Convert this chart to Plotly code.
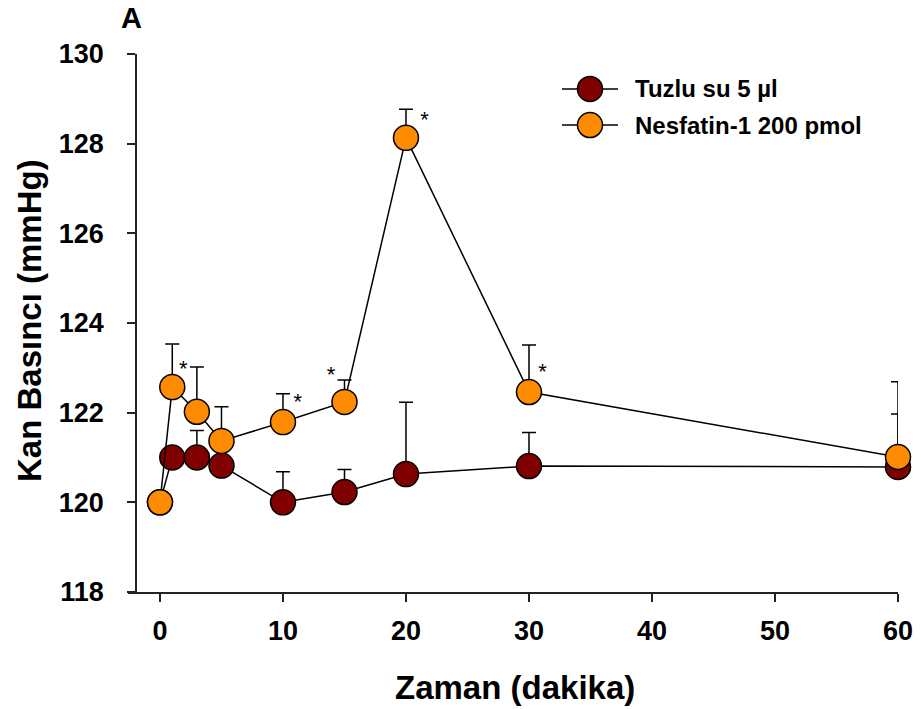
import plotly.graph_objects as go

# ---- data ----
time_min = [0, 1, 3, 5, 10, 15, 20, 30, 60]
saline_mean = [120.0, 121.0, 121.0, 120.82, 120.0, 120.23, 120.63, 120.81, 120.79]
saline_sem = [0.0, 0.0, 0.6, 0.0, 0.68, 0.5, 1.6, 0.75, 1.18]
nesf_mean = [120.0, 122.57, 122.02, 121.37, 121.79, 122.24, 128.13, 122.46, 121.01]
nesf_sem = [0.0, 0.96, 1.0, 0.76, 0.63, 0.49, 0.64, 1.05, 1.68]
star_x = [1.9, 11.2, 13.9, 21.5, 31.1]
star_y = [122.95, 122.2, 122.8, 128.5, 122.87]
series_names = ["Tuzlu su 5 µl", "Nesfatin-1 200 pmol"]
series_colors = ["#800000", "#FF8C00"]
x_ticks = [0, 10, 20, 30, 40, 50, 60]
y_ticks = [118, 120, 122, 124, 126, 128, 130]

FONT = "Liberation Sans, Arial, sans-serif"

fig = go.Figure()
for name, mean, sem, col in [
    (series_names[0], saline_mean, saline_sem, series_colors[0]),
    (series_names[1], nesf_mean, nesf_sem, series_colors[1]),
]:
    fig.add_trace(go.Scatter(
        x=time_min, y=mean, name=name, mode="lines+markers",
        line=dict(color="black", width=1.5),
        marker=dict(size=25, color=col, line=dict(color="black", width=1.5)),
        error_y=dict(type="data", array=sem, arrayminus=[0] * len(sem),
                     symmetric=False, color="black", thickness=1.5, width=7),
        showlegend=False, cliponaxis=False,
    ))

fig.add_trace(go.Scatter(
    x=star_x, y=star_y, mode="text", text=["*"] * len(star_x),
    textfont=dict(family=FONT, size=22, color="black"),
    textposition="middle center", showlegend=False, hoverinfo="skip",
    cliponaxis=False,
))

# custom legend (decoration)
shapes = []
annotations = []
legend_rows = [0.935, 0.868]
for yrow, name, col in zip(legend_rows, series_names, series_colors):
    shapes.append(dict(type="line", xref="paper", yref="paper",
                       x0=0.5636, x1=0.6364, y0=yrow, y1=yrow,
                       line=dict(color="black", width=1.5)))
    shapes.append(dict(type="circle", xref="paper", yref="paper",
                       xsizemode="pixel", ysizemode="pixel",
                       xanchor=0.6, yanchor=yrow,
                       x0=-12.5, x1=12.5, y0=-12.5, y1=12.5,
                       fillcolor=col, line=dict(color="black", width=1.5)))
    annotations.append(dict(xref="paper", yref="paper", x=0.656, y=yrow,
                            xanchor="left", yanchor="middle", showarrow=False,
                            text="<b>%s</b>" % name,
                            font=dict(family=FONT, size=24, color="black")))

annotations.append(dict(xref="paper", yref="paper", x=0.004, y=1.067,
                        xanchor="center", yanchor="middle", showarrow=False,
                        text="<b>A</b>", font=dict(family=FONT, size=29, color="black")))
# axis titles
annotations.append(dict(xref="paper", yref="paper", x=0.5026, y=-0.178,
                        xanchor="center", yanchor="middle", showarrow=False,
                        text="<b>Zaman (dakika)</b>", font=dict(family=FONT, size=33, color="black")))
annotations.append(dict(xref="paper", yref="paper", x=-0.127, y=0.504,
                        xanchor="center", yanchor="middle", showarrow=False, textangle=-90,
                        text="<b>Kan Basıncı (mmHg)</b>", font=dict(family=FONT, size=33, color="black")))

fig.update_layout(
    width=921, height=709,
    margin=dict(l=128, r=23, t=54, b=117),
    paper_bgcolor="white", plot_bgcolor="white",
    font=dict(family=FONT, color="black"),
    shapes=shapes, annotations=annotations,
    xaxis=dict(range=[-2.6, 60], tickvals=x_ticks, ticktext=["<b>%d</b>" % v for v in x_ticks],
               showgrid=False, zeroline=False, showline=True, linecolor="#222", linewidth=1.5,
               ticks="outside", ticklen=8, tickwidth=1.5, tickcolor="#222",
               tickfont=dict(family=FONT, size=27), ticklabelstandoff=6, automargin=False),
    yaxis=dict(range=[118, 130], tickvals=y_ticks, ticktext=["<b>%d</b>" % v for v in y_ticks],
               anchor="free", position=0.0104,
               showgrid=False, zeroline=False, showline=True, linecolor="#222", linewidth=1.5,
               ticks="outside", ticklen=8, tickwidth=1.5, tickcolor="#222",
               tickfont=dict(family=FONT, size=27), ticklabelstandoff=18, automargin=False),
)

fig.write_html("out.html")
